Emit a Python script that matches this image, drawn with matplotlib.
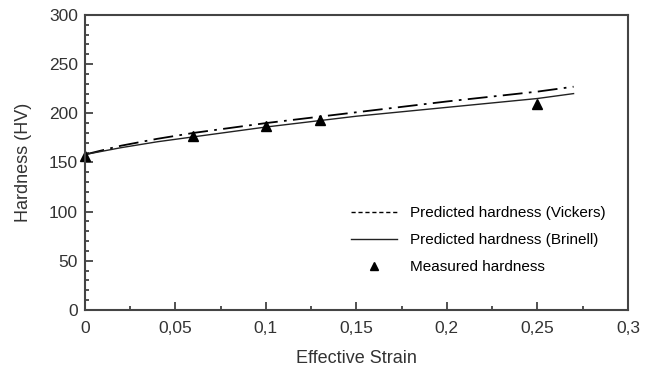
import matplotlib.pyplot as plt
from matplotlib.lines import Line2D
from matplotlib.ticker import MultipleLocator, FuncFormatter

plt.rcParams['font.family'] = ['Liberation Sans', 'DejaVu Sans']

# Predicted curves
strain_pred = [0, 0.02, 0.04, 0.06, 0.1, 0.15, 0.2, 0.25, 0.27]
vickers = [158, 167, 174, 180, 190, 201, 212, 222, 227]
brinell = [158, 165, 171, 176, 186, 197, 206, 215, 220]

# Measured points
strain_meas = [0, 0.06, 0.1, 0.13, 0.25]
measured = [157, 177, 187, 193, 209]

fig = plt.figure(figsize=(6.52, 3.73), dpi=100)
ax = fig.add_axes([0.130, 0.169, 0.833, 0.791])

ax.plot(strain_pred, vickers, color='black', lw=1.3, dashes=[11, 3.5, 1.5, 3.5])
ax.plot(strain_pred, brinell, color='#222222', lw=1.0)
ax.plot(strain_meas, measured, '^', color='black', ms=6.5, clip_on=False)

ax.set_xlim(0, 0.3)
ax.set_ylim(0, 300)
ax.xaxis.set_major_locator(MultipleLocator(0.05))
ax.xaxis.set_minor_locator(MultipleLocator(0.025))
ax.yaxis.set_major_locator(MultipleLocator(50))
ax.yaxis.set_minor_locator(MultipleLocator(10))
ax.xaxis.set_major_formatter(FuncFormatter(lambda v, p: ('%g' % round(v, 3)).replace('.', ',')))

ax.tick_params(which='both', direction='in', labelsize=12.5, colors='#333333', width=1.2)
ax.tick_params(which='major', length=6, pad=5)
ax.tick_params(axis='x', which='major', pad=8)
ax.tick_params(which='minor', length=3)
for s in ax.spines.values():
    s.set_linewidth(1.5)
    s.set_color('#444444')

ax.set_xlabel('Effective Strain', fontsize=13, color='#333333', labelpad=10)
ax.set_ylabel('Hardness (HV)', fontsize=13, color='#333333', labelpad=12)

handles = [
    Line2D([], [], color='black', lw=1.0, linestyle=(0, (3, 2))),
    Line2D([], [], color='#222222', lw=1.0),
    Line2D([], [], color='black', marker='^', ms=6, linestyle='none'),
]
labels = ['Predicted hardness (Vickers)', 'Predicted hardness (Brinell)', 'Measured hardness']
ax.legend(handles, labels, loc='lower right', bbox_to_anchor=(0.985, 0.075), frameon=False,
          fontsize=11, handlelength=3.0, labelspacing=0.85, handletextpad=0.9)

fig.savefig('out.png', dpi=100)
